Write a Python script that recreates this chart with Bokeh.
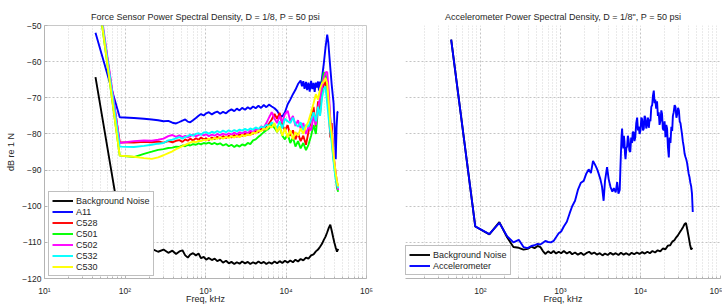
from bokeh.plotting import figure
from bokeh.layouts import row
from bokeh.models import FixedTicker, CustomJSTickFormatter, Range1d
from bokeh.embed import file_html
from bokeh.resources import INLINE

# ---------------- data (left: force sensor) ----------------
f_low = [43, 86, 129, 172, 215, 258, 301, 345, 388, 431, 474, 517, 560, 603, 646,
         700, 760, 820, 880, 950, 1020, 1100, 1200, 1300, 1400, 1520, 1650, 1800,
         1950, 2100, 2280, 2450, 2650, 2850, 3100, 3350, 3600, 3900, 4200, 4550,
         4900, 5300, 5700, 6150, 6650, 7200, 7750, 8350, 9000, 9700, 10500, 11300,
         12200, 13100, 14100, 15200, 16400, 17700, 19000, 20500, 22000, 23500,
         25000, 26500, 28000, 29500, 31000, 32500, 34000, 35500, 37000, 38500,
         40000, 41500, 43000, 44500]

bg_left = [-64.3, -104.0, -111.5, -112.0, -111.8, -112.6, -112.0, -112.9, -112.3, -113.2,
           -112.5, -112.2, -113.6, -114.2, -113.4, -113.0, -113.6, -113.1, -114.4, -114.0,
           -114.8, -114.3, -114.9, -114.5, -115.2, -114.8, -115.6, -115.1, -115.8, -115.4,
           -116.0, -115.5, -115.9, -115.3, -115.8, -115.4, -116.0, -115.5, -115.9, -115.3,
           -115.8, -115.4, -116.0, -115.5, -115.9, -115.3, -115.8, -115.2, -115.7, -115.1,
           -115.6, -115.0, -115.5, -114.8, -115.3, -114.6, -115.0, -114.2, -114.5, -113.6,
           -113.3, -112.5, -112.0, -111.2, -110.4, -109.3, -108.4, -107.2, -106.0, -105.1,
           -106.8, -108.6, -110.2, -111.5, -112.6, -111.8]

f_a11 = [43, 86, 129, 172, 215, 258, 301, 345, 388, 431, 474, 517, 560, 603, 646,
         700, 760, 820, 880, 950, 1020, 1100, 1200, 1300, 1400, 1520, 1650, 1800,
         1950, 2100, 2280, 2450, 2650, 2850, 3100, 3350, 3600, 3900, 4200, 4550,
         4900, 5300, 5700, 6150, 6650, 7200, 7750, 8350, 9000, 9700, 10500, 11300,
         12200, 13100, 14100, 15200, 15800, 16400, 17000, 17700, 18300, 19000, 19700,
         20500, 21200, 22000, 22700, 23500, 24200, 25000, 25700, 26500, 27200, 28000,
         29500, 31000, 32500, 33500, 35000, 37000, 39000, 40500, 41500, 42500, 43500, 44500]
a11 = [-52.0, -75.4, -75.6, -75.8, -76.0, -76.2, -76.5, -76.4, -76.9, -77.1, -76.7,
       -76.3, -76.0, -76.6, -76.8, -76.2, -75.6, -75.0, -74.5, -74.9, -74.3, -74.0,
       -74.6, -74.1, -73.8, -74.4, -73.9, -74.3, -73.6, -73.2, -73.7, -73.0, -73.5,
       -72.8, -73.3, -72.6, -73.1, -72.4, -72.9, -72.2, -72.8, -72.0, -72.6, -71.9,
       -72.4, -72.9, -73.6, -74.8, -75.2, -74.0, -71.8, -70.5, -69.0, -67.8, -66.2,
       -65.2, -66.8, -65.4, -67.5, -65.6, -67.9, -65.8, -68.3, -65.3, -67.6, -65.9,
       -68.4, -65.8, -67.2, -65.5, -68.0, -65.5, -66.8, -64.5, -60.5, -56.0, -52.5,
       -54.5, -60.0, -66.5, -71.5, -80.0, -87.0, -78.0, -74.0, -73.8]

f_mid = [43, 86, 129, 172, 215, 258, 301, 345, 388, 431, 474, 517, 560, 603, 646,
         700, 760, 820, 880, 950, 1020, 1100, 1200, 1300, 1400, 1520, 1650, 1800,
         1950, 2100, 2280, 2450, 2650, 2850, 3100, 3350, 3600, 3900, 4200, 4550,
         4900, 5300, 5700, 6150, 6650, 7200, 7750, 8350, 9000, 9700, 10500, 11300,
         12200, 13100, 14100, 15200, 16400, 17700, 19000, 20500, 22000, 23500,
         25000, 26500, 28000, 29500, 31000, 32500, 34000, 35500, 37000, 38500,
         40000, 41500, 43000, 44500]

c528 = [-37.0, -82.3, -82.4, -82.2, -82.3, -82.1, -82.4, -82.0, -82.3, -81.9, -81.7,
        -82.2, -81.5, -81.9, -81.3, -81.8, -81.2, -81.6, -81.0, -81.5, -81.2, -81.7,
        -81.0, -81.4, -80.8, -81.3, -80.6, -81.1, -80.5, -81.0, -80.3, -80.8, -80.1,
        -80.6, -79.9, -80.3, -79.6, -80.0, -79.2, -79.5, -78.6, -78.9, -77.8, -77.2,
        -76.0, -74.5, -75.8, -74.2, -77.5, -79.0, -77.6, -80.5, -79.0, -81.5, -79.8,
        -82.0, -80.5, -83.0, -79.5, -76.0, -72.5, -78.0, -71.0, -74.5, -68.5, -66.5,
        -65.5, -70.0, -73.5, -81.0, -77.0, -85.0, -88.0, -91.0, -93.5, -94.5]

c501 = [-36.5, -86.0, -86.4, -85.5, -84.9, -84.4, -84.2, -83.9, -83.8, -83.5, -83.6,
        -83.2, -83.4, -83.0, -83.2, -82.8, -83.0, -82.6, -82.9, -82.5, -82.7, -82.4,
        -82.8, -82.5, -82.9, -82.6, -83.2, -82.8, -83.4, -83.0, -83.6, -83.1, -83.5,
        -82.9, -83.2, -82.5, -82.8, -81.8, -81.5, -80.8, -80.2, -79.5, -79.0, -78.5,
        -77.5, -78.3, -79.5, -78.0, -80.5, -81.5, -80.0, -82.5, -81.0, -83.5, -82.0,
        -84.0, -82.5, -84.5, -83.0, -80.5, -77.5, -80.0, -73.0, -70.5, -66.0, -63.0,
        -63.5, -66.0, -70.5, -76.0, -80.5, -86.0, -89.0, -92.0, -95.0, -96.0]

c502 = [-35.5, -82.5, -82.0, -81.8, -81.9, -81.6, -81.3, -80.6, -80.3, -80.8, -80.4,
        -80.9, -80.5, -81.0, -80.6, -80.2, -80.7, -80.3, -80.0, -80.4, -80.1, -80.6,
        -80.2, -80.5, -80.0, -80.4, -79.9, -80.3, -79.8, -80.2, -79.6, -80.1, -79.5,
        -79.9, -79.3, -79.8, -79.1, -79.5, -78.6, -79.0, -77.9, -78.2, -77.0, -75.5,
        -74.0, -75.8, -77.0, -75.0, -76.8, -74.5, -73.6, -76.5, -75.0, -77.8, -76.2,
        -78.5, -77.0, -80.0, -78.0, -79.0, -75.0, -77.5, -73.0, -70.0, -67.0, -64.5,
        -63.0, -62.8, -68.0, -76.0, -80.0, -84.0, -88.5, -91.0, -94.0, -95.5]

c532 = [-36.0, -83.5, -83.6, -83.3, -83.0, -82.7, -82.5, -81.8, -81.6, -81.2, -80.9,
        -81.3, -80.8, -80.6, -80.2, -80.5, -80.0, -79.8, -80.2, -79.6, -79.5, -79.9,
        -79.4, -79.7, -79.2, -79.6, -79.1, -79.5, -79.0, -79.4, -78.9, -79.3, -78.8,
        -79.1, -78.6, -79.0, -78.5, -78.8, -78.2, -78.6, -78.0, -78.3, -77.5, -77.8,
        -76.8, -77.5, -78.5, -76.5, -78.5, -75.8, -76.5, -77.0, -75.5, -77.2, -78.0,
        -76.8, -79.0, -77.5, -78.0, -76.0, -74.0, -76.5, -72.5, -75.0, -70.0, -67.5,
        -66.8, -71.5, -76.0, -79.5, -82.5, -86.5, -90.0, -92.5, -94.0, -95.0]

c530 = [-36.3, -86.0, -86.3, -86.7, -86.9, -86.5, -85.9, -85.3, -84.8, -84.2, -83.8,
        -83.4, -83.0, -82.7, -82.4, -82.1, -82.3, -81.9, -82.0, -81.6, -81.8, -81.3,
        -81.6, -81.1, -81.4, -80.9, -81.3, -80.8, -81.1, -80.6, -81.0, -80.5, -80.9,
        -80.3, -80.6, -80.1, -80.4, -79.6, -79.9, -79.0, -79.3, -78.5, -78.8, -77.8,
        -78.2, -77.0, -79.5, -78.0, -80.5, -78.5, -81.0, -79.0, -81.5, -79.5, -80.5,
        -78.5, -80.0, -78.0, -76.5, -74.0, -71.5, -69.0, -70.5, -67.5, -66.0, -65.5,
        -64.5, -66.0, -71.5, -77.0, -80.0, -84.5, -88.0, -91.0, -93.0, -94.5]

left_names = ["Background Noise", "A11", "C528", "C501", "C502", "C532", "C530"]

# ---------------- data (right: accelerometer) ----------------
f_acc = [43, 86, 129, 172, 215, 258, 301, 345, 388, 431,
         474, 517, 560, 603, 646, 700, 760, 820, 880, 950,
         1020, 1100, 1200, 1300, 1400, 1520, 1650, 1800, 1950, 2100,
         2250, 2400, 2550, 2700, 2850, 3000, 3150, 3300, 3460, 3600,
         3820, 4000, 4220, 4450, 4640, 4900, 5110, 5300, 5500, 5600,
         5700, 5800, 5890, 6000, 6100, 6200, 6300, 6400, 6500, 6650,
         6800, 6950, 7100, 7250, 7450, 7650, 7850, 8000, 8200, 8400,
         8600, 8850, 9080, 9300, 9500, 9750, 10000, 10250, 10500, 10750,
         11000, 11250, 11500, 11800, 12100, 12400, 12700, 13000, 13300, 13650,
         14000, 14300, 14660, 15000, 15300, 15700, 16100, 16500, 16900, 17300,
         17800, 18200, 18600, 19000, 19500, 20000, 20500, 21000, 21500, 22000,
         22600, 23100, 23700, 24300, 24900, 25400, 26000, 26700, 27400, 28100,
         28800, 29500, 30200, 30900, 31600, 32300, 33000, 33800, 34700, 35600,
         36500, 37300, 38200, 39100, 40000, 41000, 42000, 43000, 44000, 45000]
acc = [-53.9, -105.6, -107.7, -104.6, -108.3, -110.0, -109.3, -111.3, -111.6, -111.0,
       -110.8, -110.4, -110.6, -110.1, -109.6, -109.9, -110.0, -109.6, -108.6, -107.5,
       -107.0, -105.6, -104.3, -102.0, -100.0, -98.5, -95.5, -93.5, -93.0, -91.0,
       -89.8, -90.8, -87.5, -88.5, -89.6, -91.0, -92.5, -94.5, -98.5, -93.0,
       -89.2, -92.5, -94.7, -96.0, -95.0, -96.2, -93.3, -96.5, -95.5, -90.0,
       -85.0, -80.5, -78.5, -82.5, -84.0, -80.5, -82.0, -85.5, -87.0, -84.0,
       -83.5, -80.5, -81.5, -84.5, -85.0, -81.0, -82.5, -79.5, -79.5, -82.0,
       -81.0, -77.0, -75.5, -79.0, -78.0, -80.0, -79.0, -75.5, -76.0, -79.0,
       -78.5, -75.0, -75.5, -78.5, -77.0, -75.5, -78.3, -76.0, -76.5, -72.5,
       -72.0, -69.5, -68.0, -71.5, -70.5, -73.0, -71.0, -75.0, -74.0, -77.5,
       -76.3, -73.5, -74.5, -78.5, -79.0, -76.5, -80.9, -77.5, -78.5, -83.5,
       -86.5, -81.0, -82.5, -78.0, -79.2, -75.0, -74.0, -72.0, -72.6, -75.5,
       -74.5, -72.8, -73.5, -76.5, -77.0, -78.5, -80.0, -82.0, -83.5, -85.5,
       -86.4, -87.0, -88.0, -89.5, -91.0, -92.0, -93.5, -94.5, -96.5, -101.6]

bg_right = [-53.9, -105.6, -107.8, -104.4, -108.6, -111.3, -111.5, -112.0, -111.8, -111.2,
            -111.6, -111.0, -111.3, -112.4, -113.2, -112.5, -113.0, -112.4, -113.1, -112.6,
            -113.0, -112.4, -113.1, -112.6, -113.3, -112.8, -113.4, -112.9, -113.5, -113.0,
            -112.6, -113.2, -112.8, -113.4, -113.0, -113.6, -113.1, -113.5, -112.9, -113.4,
            -113.0, -113.5, -112.9, -113.4, -113.0, -113.5, -112.9, -113.3, -112.8, -113.2,
            -112.7, -113.1, -112.6, -113.0, -112.4, -112.8, -112.2, -112.5, -111.7, -111.9,
            -110.9, -110.8, -109.8, -109.4, -108.6, -108.0, -107.2, -106.5, -105.8, -105.0,
            -104.6, -106.5, -108.5, -110.5, -112.0, -111.5]

right_names = ["Background Noise", "Accelerometer"]

x_major = [10, 100, 1000, 10000, 100000]
x_minor = [m * 10 ** k for k in range(1, 5) for m in range(2, 10)]
y_major = [-120, -110, -100, -90, -80, -70, -60, -50]

FONT = "Liberation Sans"
TXT = "#262626"
AX = "#b4b4b4"

fmt = CustomJSTickFormatter(code="""
const e = Math.round(Math.log10(tick));
const s = {1: '\\u00b9', 2: '\\u00b2', 3: '\\u00b3', 4: '\\u2074', 5: '\\u2075'};
return '10' + s[e];
""")


def style(p):
    p.title.text_font = FONT
    p.title.text_font_size = "9px"
    p.title.text_font_style = "normal"
    p.title.text_color = TXT
    p.title.align = "center"
    p.title.standoff = 7
    for ax in [p.xaxis[0], p.yaxis[0]]:
        ax.major_label_text_font = FONT
        ax.major_label_text_font_size = "8.5px"
        ax.major_label_text_color = TXT
        ax.axis_label_text_font = FONT
        ax.axis_label_text_font_size = "9px"
        ax.axis_label_text_font_style = "normal"
        ax.axis_label_text_color = TXT
        ax.axis_line_color = AX
        ax.major_tick_line_color = AX
        ax.minor_tick_line_color = AX
        ax.major_tick_in = 3
        ax.major_tick_out = 0
        ax.minor_tick_in = 2
        ax.minor_tick_out = 0
    p.xaxis[0].ticker = FixedTicker(ticks=x_major, minor_ticks=x_minor)
    p.xaxis[0].formatter = fmt
    p.xaxis[0].major_label_standoff = 7
    p.xaxis[0].axis_label_standoff = -5
    p.xaxis[0].axis_label = "Freq, kHz"
    p.yaxis[0].ticker = FixedTicker(ticks=y_major)
    p.yaxis[0].minor_tick_line_color = None
    p.yaxis[0].major_label_standoff = 3
    p.yaxis[0].axis_label_standoff = 3
    p.xgrid.ticker = FixedTicker(ticks=x_major, minor_ticks=x_minor)
    p.ygrid.ticker = FixedTicker(ticks=y_major)
    p.xgrid.grid_line_color = "#c4c4c4"
    p.xgrid.grid_line_dash = "2 2"
    p.xgrid.minor_grid_line_color = "#d4d4d4"
    p.xgrid.minor_grid_line_dash = "1 2"
    p.ygrid.grid_line_color = "#c4c4c4"
    p.ygrid.grid_line_dash = "2 2"
    p.background_fill_color = "white"
    p.border_fill_color = "white"


def style_legend(p, loc):
    lg = p.legend[0]
    lg.location = loc
    lg.margin = 0
    lg.padding = 3
    lg.spacing = 0
    lg.label_height = 11
    lg.glyph_height = 11
    lg.glyph_width = 21
    lg.label_standoff = 3
    lg.label_text_font = FONT
    lg.label_text_font_size = "9px"
    lg.label_text_color = TXT
    lg.border_line_color = "#808080"
    lg.border_line_width = 1
    lg.background_fill_alpha = 1.0


LW = 1.9

p1 = figure(width=390, height=306, x_axis_type="log",
            x_range=Range1d(10, 100000), y_range=Range1d(-120, -50),
            output_backend="svg", toolbar_location=None,
            title="Force Sensor Power Spectral Density, D = 1/8, P = 50 psi",
            min_border_left=44, min_border_right=24, min_border_top=25,
            min_border_bottom=28)
style(p1)
p1.yaxis[0].axis_label = "dB re 1 N"
p1.outline_line_color = "#c8c8c8"

left_series = [(f_low, bg_left, "black"), (f_a11, a11, "#0000ff"),
               (f_mid, c528, "#ff0000"), (f_mid, c501, "#00ff00"),
               (f_mid, c502, "#ff00ff"), (f_mid, c532, "#00ffff"),
               (f_mid, c530, "#ffff00")]
for (xs, ys, col), name in zip(left_series, left_names):
    p1.line(xs, ys, line_color=col, line_width=LW, legend_label=name)
style_legend(p1, (4, 2))

p2 = figure(width=332, height=306, x_axis_type="log",
            x_range=Range1d(11.55, 100000), y_range=Range1d(-120, -50),
            output_backend="svg", toolbar_location=None,
            title="Accelerometer Power Spectral Density, D = 1/8\", P = 50 psi",
            min_border_left=15, min_border_right=2, min_border_top=25,
            min_border_bottom=28)
style(p2)
p2.title.offset = -4
p2.yaxis[0].visible = False
p2.outline_line_color = None
p2.line(f_low, bg_right, line_color="black", line_width=LW, legend_label=right_names[0])
p2.line(f_acc, acc, line_color="#0000ff", line_width=LW, legend_label=right_names[1])
style_legend(p2, (0, 3))

layout = row(p1, p2)
open("out.html", "w").write(file_html(layout, INLINE))
